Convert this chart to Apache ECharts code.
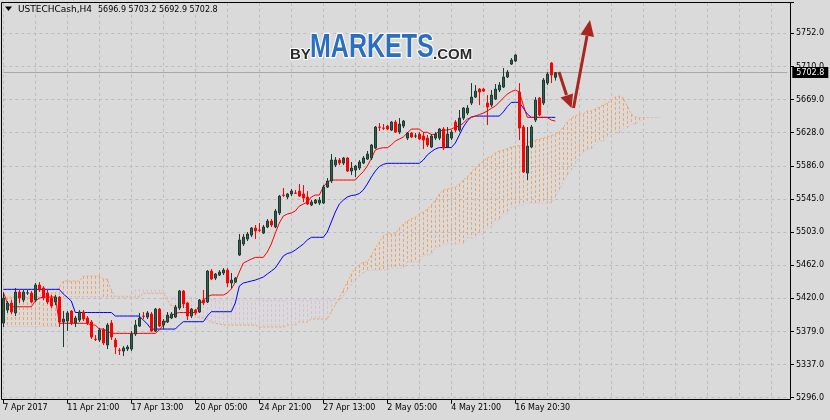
<!DOCTYPE html>
<html><head><meta charset="utf-8">
<script src="https://cdn.jsdelivr.net/npm/echarts@6/dist/echarts.min.js"></script>
<style>html,body{margin:0;padding:0;background:#dadada;}#c{width:830px;height:420px;}</style>
</head><body><div id="c"></div>
<script>
const symbolName = 'USTECHCash,H4';
const titleValues = '5696.9 5703.2 5692.9 5702.8';
const xTickLabels = ['7 Apr 2017','11 Apr 21:00','17 Apr 13:00','20 Apr 05:00','24 Apr 21:00','27 Apr 13:00','2 May 05:00','4 May 21:00','16 May 20:30'];
const yTickLabels = ['5296.0','5337.0','5379.0','5420.0','5462.0','5503.0','5545.0','5586.0','5628.0','5669.0','5710.0','5752.0'];
const lastPrice = 5702.8;

const open = [
5389.4,5405.7,5414.5,5402.0,5428.2,5418.2,5427.0,5427.0,5418.2,5437.0,
5433.2,5427.0,5420.7,5415.7,5422.0,5390.7,5391.9,5404.4,5389.4,5393.2,
5403.2,5395.7,5390.7,5369.4,5368.2,5380.7,5361.9,5389.4,5368.2,5355.7,
5354.4,5356.9,5356.9,5375.7,5385.7,5398.2,5396.9,5400.7,5379.4,5406.9,
5386.9,5390.7,5395.7,5396.9,5408.2,5429.5,5414.5,5398.2,5405.7,5403.2,
5418.2,5415.7,5454.5,5445.7,5449.5,5452.0,5455.7,5439.5,5440.7,5474.5,
5488.3,5494.5,5499.5,5508.3,5505.8,5502.0,5509.6,5517.1,5509.6,5527.1,
5549.6,5547.1,5550.9,5552.1,5554.6,5550.9,5547.1,5537.1,5539.6,5539.6,
5539.6,5559.6,5567.1,5587.1,5593.4,5589.6,5595.9,5579.6,5580.9,5583.4,
5589.6,5594.6,5595.9,5608.4,5634.7,5633.4,5635.9,5630.9,5640.9,5628.4,
5635.9,5620.9,5627.2,5623.4,5625.9,5623.4,5620.9,5609.7,5620.9,5620.9,
5632.2,5609.7,5620.9,5640.9,5630.9,5645.9,5652.2,5664.7,5672.2,5682.2,
5682.2,5664.7,5662.2,5669.7,5681.0,5684.7,5697.3,5713.5,5717.3,5678.5,
5634.7,5577.1,5609.7,5643.4,5671.0,5664.7,5689.7,5714.8,5696.9];
const high = [
5427.0,5417.0,5418.2,5433.2,5430.8,5430.8,5430.8,5429.5,5439.5,5440.7,
5435.7,5430.8,5424.5,5424.5,5423.2,5404.4,5404.4,5405.7,5398.2,5405.7,
5405.7,5398.2,5393.2,5374.4,5383.2,5383.2,5389.4,5393.2,5370.7,5358.1,
5360.6,5361.9,5379.4,5393.2,5402.0,5403.2,5404.4,5403.2,5408.2,5408.2,
5394.4,5403.2,5403.2,5412.0,5430.8,5430.8,5415.7,5408.2,5406.9,5419.5,
5430.8,5455.7,5457.0,5452.0,5455.7,5458.2,5458.2,5452.0,5447.0,5500.8,
5500.8,5503.3,5509.6,5512.1,5514.6,5512.1,5519.6,5519.6,5532.1,5549.6,
5558.4,5552.1,5557.1,5555.9,5563.4,5562.1,5554.6,5543.3,5544.6,5547.1,
5562.1,5570.9,5600.9,5597.1,5595.9,5597.1,5597.1,5590.9,5587.1,5593.4,
5598.4,5604.7,5613.4,5635.9,5639.7,5638.4,5637.2,5642.2,5643.4,5645.9,
5643.4,5628.4,5628.4,5627.2,5628.4,5628.4,5624.7,5625.9,5628.4,5633.4,
5634.7,5634.7,5630.9,5643.4,5656.0,5659.7,5662.2,5689.7,5687.2,5683.5,
5683.5,5674.7,5681.0,5688.5,5691.0,5708.5,5706.0,5721.0,5726.0,5689.7,
5637.2,5634.7,5637.2,5672.2,5672.2,5696.0,5703.5,5716.0,5703.2];
const low = [
5384.4,5402.0,5400.7,5398.2,5414.5,5415.7,5424.5,5414.5,5415.7,5428.2,
5418.2,5413.2,5408.2,5412.0,5384.4,5359.4,5379.4,5386.9,5384.4,5390.7,
5391.9,5386.9,5369.4,5366.9,5365.7,5361.9,5356.9,5368.2,5350.6,5349.4,
5348.1,5354.4,5354.4,5373.2,5384.4,5394.4,5394.4,5378.2,5378.2,5384.4,
5381.9,5389.4,5394.4,5395.7,5405.7,5408.2,5393.2,5395.7,5399.4,5402.0,
5412.0,5414.5,5443.2,5443.2,5448.2,5449.5,5434.5,5433.2,5439.5,5473.3,
5485.8,5492.0,5497.0,5494.5,5503.3,5500.8,5508.3,5509.6,5508.3,5524.6,
5547.1,5544.6,5548.3,5550.9,5547.1,5540.8,5537.1,5535.8,5538.3,5537.1,
5538.3,5558.4,5564.6,5584.6,5587.1,5587.1,5578.4,5574.6,5572.1,5580.9,
5588.4,5593.4,5593.4,5607.2,5629.7,5630.9,5630.9,5629.7,5627.2,5625.9,
5633.4,5618.4,5620.9,5620.9,5618.4,5607.2,5609.7,5608.4,5618.4,5618.4,
5605.9,5608.4,5618.4,5628.4,5628.4,5643.4,5649.7,5662.2,5671.0,5662.2,
5678.5,5637.2,5659.7,5668.5,5678.5,5683.5,5696.0,5712.3,5716.0,5618.4,
5577.1,5568.4,5608.4,5640.9,5648.4,5662.2,5687.2,5689.7,5692.9];
const close = [
5420.7,5414.5,5403.2,5428.2,5420.7,5428.2,5427.3,5415.7,5437.0,5430.8,
5420.7,5415.7,5410.7,5422.0,5390.7,5394.4,5402.0,5389.4,5395.7,5403.2,
5394.4,5389.4,5371.9,5368.9,5380.7,5364.4,5386.9,5371.9,5359.4,5355.2,
5358.1,5359.4,5375.7,5386.9,5395.7,5397.9,5402.0,5379.4,5406.9,5385.7,
5391.9,5399.4,5400.7,5409.4,5429.5,5413.2,5398.2,5406.9,5402.0,5418.2,
5414.5,5454.5,5444.5,5450.7,5453.2,5455.7,5439.5,5443.2,5445.7,5493.3,
5497.0,5500.8,5508.3,5504.6,5505.5,5509.6,5517.1,5512.1,5529.6,5548.3,
5549.2,5550.9,5554.6,5551.8,5548.3,5545.8,5538.3,5540.8,5543.3,5543.3,
5559.6,5567.1,5593.4,5593.4,5589.6,5595.9,5579.6,5583.4,5585.9,5590.9,
5595.9,5600.9,5612.2,5634.7,5634.3,5633.1,5632.2,5640.9,5628.4,5638.4,
5642.2,5627.2,5622.2,5623.4,5619.7,5618.4,5612.2,5623.4,5625.9,5632.2,
5608.4,5625.9,5628.4,5630.9,5645.9,5658.5,5658.5,5672.2,5679.7,5678.5,
5679.7,5659.7,5674.7,5682.2,5687.2,5697.3,5703.5,5718.5,5724.8,5633.4,
5578.4,5610.9,5634.7,5668.5,5649.7,5693.5,5701.0,5699.8,5702.8];
const tenkan = [
5428.2,5414.5,5409.8,5409.8,5409.8,5409.8,5409.8,5409.8,5417.0,5420.7,
5422.0,5422.0,5422.0,5422.0,5389.1,5389.1,5389.1,5389.1,5389.1,5389.1,
5389.1,5389.1,5386.9,5386.9,5381.9,5381.9,5379.4,5376.5,5376.5,5376.5,
5376.5,5376.5,5376.5,5376.5,5376.5,5376.5,5376.5,5376.5,5376.5,5380.7,
5386.9,5394.4,5398.8,5401.3,5402.6,5402.6,5402.6,5402.6,5402.6,5412.0,
5418.2,5422.0,5424.5,5424.5,5424.5,5424.5,5427.0,5432.0,5440.7,5453.3,
5464.5,5467.0,5469.5,5471.6,5471.6,5471.6,5478.3,5488.3,5502.0,5514.6,
5523.3,5525.8,5527.1,5529.6,5535.8,5538.3,5540.8,5547.1,5549.6,5549.6,
5559.6,5565.9,5568.4,5568.4,5568.4,5568.4,5568.4,5568.4,5568.4,5574.0,
5578.8,5585.9,5595.3,5605.9,5608.0,5608.8,5608.8,5612.2,5617.2,5619.7,
5622.2,5627.2,5632.2,5632.2,5632.2,5628.1,5628.1,5625.5,5625.5,5629.7,
5630.9,5630.9,5632.2,5634.7,5635.9,5639.7,5644.7,5646.8,5648.4,5650.3,
5652.2,5654.7,5658.1,5660.9,5665.9,5671.0,5676.0,5678.9,5681.0,5678.5,
5662.2,5646.8,5646.8,5646.8,5646.8,5646.8,5646.8,5643.4,5642.2];
const kijun = [
5431.6,5431.6,5431.6,5431.6,5431.6,5431.6,5431.6,5431.6,5431.6,5431.6,
5431.6,5431.6,5431.6,5431.6,5431.6,5425.7,5421.6,5417.0,5402.6,5402.6,
5402.6,5402.6,5402.6,5402.6,5402.6,5402.6,5402.6,5402.6,5398.2,5398.2,
5398.2,5398.2,5398.2,5398.2,5398.2,5393.2,5388.2,5381.9,5381.9,5381.9,
5381.9,5381.9,5381.9,5381.9,5386.9,5391.1,5391.1,5391.1,5391.1,5391.1,
5391.1,5398.2,5403.6,5403.6,5403.6,5403.6,5403.6,5403.6,5414.5,5435.7,
5439.5,5440.7,5442.0,5443.2,5445.1,5447.0,5450.8,5454.5,5458.3,5465.8,
5473.3,5476.4,5477.7,5480.8,5484.5,5488.3,5493.3,5496.7,5496.7,5496.7,
5496.7,5503.3,5515.8,5528.3,5538.3,5543.3,5547.1,5549.0,5549.6,5551.5,
5555.9,5563.4,5572.1,5579.6,5585.3,5588.0,5589.3,5589.3,5589.3,5589.3,
5589.3,5589.3,5589.3,5589.3,5589.3,5593.4,5599.7,5603.8,5607.2,5609.0,
5609.0,5609.0,5609.0,5614.7,5624.7,5634.7,5642.2,5647.2,5648.4,5648.4,
5648.4,5648.4,5648.4,5648.4,5648.4,5653.5,5660.3,5665.6,5665.6,5665.6,
5658.5,5651.0,5646.8,5646.8,5646.8,5646.8,5646.8,5646.8,5646.8];
const spanA = [
5415.7,5422.0,5422.0,5422.0,5422.0,5422.0,5422.0,5422.0,5422.0,5422.0,
5427.0,5427.0,5427.0,5427.0,5434.5,5442.0,5442.0,5442.0,5442.0,5442.0,
5448.2,5448.2,5448.2,5448.2,5448.2,5444.5,5444.5,5430.8,5422.0,5422.0,
5422.0,5422.0,5422.0,5422.0,5422.0,5426.6,5426.6,5426.6,5426.6,5426.6,
5426.6,5418.2,5410.7,5410.7,5410.7,5410.7,5407.0,5403.2,5399.4,5395.7,
5395.7,5393.2,5390.7,5389.1,5388.2,5386.9,5386.9,5386.9,5386.9,5386.9,
5386.9,5386.9,5386.9,5386.9,5384.4,5384.4,5384.4,5384.4,5384.4,5384.4,
5384.4,5386.9,5386.9,5386.9,5390.7,5390.7,5390.7,5394.4,5394.4,5394.4,
5394.4,5394.4,5403.2,5412.0,5420.7,5430.8,5440.7,5450.7,5458.3,5462.0,
5465.8,5465.8,5474.5,5483.3,5490.8,5498.3,5500.8,5500.8,5500.8,5508.3,
5513.3,5517.1,5519.6,5522.1,5525.8,5528.3,5532.1,5537.1,5543.3,5550.8,
5555.9,5557.1,5558.4,5559.6,5563.4,5568.4,5572.1,5578.4,5583.4,5588.4,
5592.1,5595.9,5598.4,5602.2,5604.7,5605.9,5607.8,5609.7,5610.9,5611.5,
5612.2,5614.7,5617.2,5618.4,5619.7,5620.9,5622.2,5624.1,5625.9,5628.4,
5634.7,5640.9,5645.9,5648.4,5651.0,5651.0,5654.7,5654.7,5657.2,5659.7,
5662.2,5664.7,5668.5,5672.2,5673.5,5671.0,5661.0,5651.0,5647.2,5646.6,
5646.6,5646.6,5646.6,5646.6,5646.6];
const spanB = [
5385.1,5385.1,5385.1,5385.1,5385.1,5385.1,5385.1,5385.1,5385.1,5385.1,
5385.1,5385.1,5385.1,5385.1,5385.1,5422.0,5422.0,5422.0,5422.0,5422.0,
5422.0,5422.0,5422.0,5422.0,5422.0,5422.0,5422.0,5422.0,5423.2,5423.2,
5423.2,5423.2,5423.2,5430.8,5430.8,5430.8,5430.8,5430.8,5430.8,5430.8,
5430.8,5422.0,5422.0,5422.0,5422.0,5422.0,5422.0,5422.0,5419.5,5419.5,
5419.5,5419.5,5419.5,5418.2,5418.2,5418.2,5418.2,5418.2,5418.2,5418.2,
5418.2,5418.2,5418.2,5418.2,5418.2,5418.2,5418.2,5418.2,5418.2,5418.2,
5418.2,5418.2,5418.2,5418.2,5418.2,5418.2,5418.2,5418.2,5418.2,5418.2,
5418.2,5418.2,5418.2,5418.2,5418.2,5423.2,5430.8,5437.0,5443.2,5448.2,
5452.0,5455.7,5455.7,5455.7,5455.7,5455.7,5455.7,5458.3,5458.3,5458.3,
5458.3,5465.8,5465.8,5465.8,5465.8,5474.5,5474.5,5474.5,5484.5,5484.5,
5488.3,5488.3,5488.3,5488.3,5488.3,5488.3,5495.8,5495.8,5495.8,5500.8,
5500.8,5508.3,5508.3,5518.3,5518.3,5525.8,5525.8,5534.6,5534.6,5537.1,
5537.1,5539.6,5539.6,5539.6,5539.6,5539.6,5539.6,5539.6,5547.1,5555.9,
5565.9,5574.6,5580.9,5589.6,5597.1,5603.4,5607.2,5607.2,5613.4,5617.2,
5617.2,5623.4,5623.4,5627.2,5627.2,5633.4,5633.4,5638.4,5638.4,5643.4,
5643.4,5646.8,5646.6,5646.6,5646.6];

const NCAT = 197;
const cats = [];
for (let i = 0; i < NCAT; i++) cats.push(String(i));
const yMin = parseFloat(yTickLabels[0]);
const yTop = parseFloat(yTickLabels[yTickLabels.length - 1]);
const yStep = (yTop - yMin) / (yTickLabels.length - 1);
const yMax = yMin + yStep * (395 / 33.127);

const candleData = open.map((o, i) => [o, close[i], low[i], high[i]]);
const cloudData = spanA.map((a, i) => [i, a, spanB[i]]);

const FONT = 'DejaVu Sans';
const chart = echarts.init(document.getElementById('c'), null, {renderer: 'canvas'});
const arrowColor = '#a8261f';
chart.setOption({
  animation: false,
  backgroundColor: '#dadada',
  grid: {left: 3.3, right: 42.7, top: 2.7, bottom: 22.3, show: false},
  xAxis: {
    type: 'category', data: cats, boundaryGap: false, offset: 2,
    axisLine: {show: false},
    axisTick: {show: true, length: 4, interval: (i) => i % 16 === 0 && i <= 128, lineStyle: {color: '#000'}},
    axisLabel: {interval: (i) => i % 16 === 0 && i <= 128, align: 'left', margin: 4,
      fontFamily: FONT, fontSize: 8, color: '#000',
      formatter: (v, idx) => (idx % 16 === 0 ? (xTickLabels[idx / 16] || '') : '')},
    splitLine: {show: true, interval: (i) => i % 8 === 0, lineStyle: {color: '#bdbdbd', type: [3, 3], width: 1}}
  },
  yAxis: {
    type: 'value', position: 'right', offset: 2.7, min: yMin, max: yMax, interval: yStep, scale: true,
    axisLine: {show: false},
    axisTick: {show: true, length: 4, lineStyle: {color: '#000'}},
    axisLabel: {margin: 6, fontFamily: FONT, fontSize: 8, color: '#000', showMaxLabel: true,
      formatter: (v) => {
        const k = Math.round((v - yMin) / yStep);
        if (k < 0 || k >= yTickLabels.length) return '';
        if (Math.abs(v - (yMin + k * yStep)) > 0.5) return '';
        return yTickLabels[k];
      }},
    splitLine: {show: true, lineStyle: {color: '#bdbdbd', type: [3, 3], width: 1}}
  },
  series: [
    {
      type: 'custom', name: 'cloud', silent: true, z: 1,
      encode: {x: 0, y: [1, 2]},
      data: cloudData,
      renderItem: (params, api) => {
        const i = api.value(0), a = api.value(1), b = api.value(2);
        const p1 = api.coord([i, a]);
        const p2 = api.coord([i, b]);
        const x = Math.round(p1[0]) + 0.5;
        return {type: 'line', shape: {x1: x, y1: p1[1], x2: x, y2: p2[1]},
          style: {stroke: a >= b ? '#f4a460' : '#d8bfd8', lineWidth: 1, lineDash: [3, 2]}};
      }
    },
    {type: 'line', name: 'SpanA', data: spanA, showSymbol: false, silent: true, z: 2,
      lineStyle: {color: '#f4a460', width: 1, type: [2, 2]}},
    {type: 'line', name: 'SpanB', data: spanB, showSymbol: false, silent: true, z: 2,
      lineStyle: {color: '#d8bfd8', width: 1, type: [2, 2]}},
    {type: 'line', name: 'Kijun', data: kijun, showSymbol: false, silent: true, z: 3,
      lineStyle: {color: '#0000ff', width: 1}},
    {type: 'line', name: 'Tenkan', data: tenkan, showSymbol: false, silent: true, z: 4,
      lineStyle: {color: '#ff0000', width: 1}},
    {
      type: 'candlestick', name: 'USTECHCash', data: candleData, barWidth: 2, clip: false, z: 5,
      itemStyle: {color: '#30604c', color0: '#ff0000', borderColor: '#1f3a30', borderColor0: '#ff0000', borderWidth: 1},
      markLine: {
        silent: true, symbol: ['none', 'none'], animation: false,
        data: [{yAxis: lastPrice}],
        lineStyle: {color: '#a8a8a8', type: 'solid', width: 1},
        label: {show: true, position: 'end', distance: 5, formatter: () => lastPrice.toFixed(1),
          backgroundColor: '#000', color: '#fff', fontFamily: FONT, fontSize: 8, padding: [2, 4, 1, 4]}
      }
    }
  ],
  graphic: [
    {type: 'rect', z: 100, silent: true, shape: {x: 1.5, y: 2.5, width: 789, height: 397},
      style: {fill: null, stroke: '#000', lineWidth: 1}},
    {type: 'polygon', z: 100, shape: {points: [[5, 6.5], [12, 6.5], [8.5, 11]]}, style: {fill: '#000'}},
    {type: 'text', z: 100, x: 18, y: 9.5, style: {text: symbolName, font: '9px "DejaVu Sans"', fill: '#000', verticalAlign: 'middle'}},
    {type: 'text', z: 100, x: 98, y: 9.5, style: {text: titleValues, font: '8px "DejaVu Sans"', fill: '#000', verticalAlign: 'middle'}},
    {type: 'text', z: 50, x: 290, y: 62, style: {text: 'BY', font: 'bold 15px "Liberation Sans"', fill: '#2b2b2b', verticalAlign: 'bottom',
      stroke: '#ffffff', lineWidth: 2}},
    {type: 'text', z: 50, x: 310, y: 64, scaleY: 1.3, originX: 0, originY: 0, style: {text: 'MARKETS', font: 'bold 25px "Liberation Sans"', fill: '#2a6fc0', verticalAlign: 'bottom',
      stroke: '#ffffff', lineWidth: 2}},
    {type: 'text', z: 50, x: 433, y: 62, style: {text: '.COM', font: 'bold 15px "Liberation Sans"', fill: '#2b2b2b', verticalAlign: 'bottom',
      stroke: '#ffffff', lineWidth: 2}},
    {type: 'line', z: 60, shape: {x1: 559, y1: 72, x2: 566.5, y2: 95}, style: {stroke: arrowColor, lineWidth: 3}},
    {type: 'polygon', z: 60, shape: {points: [[571.5, 108], [573, 93.5], [560.5, 97.5]]}, style: {fill: arrowColor}},
    {type: 'line', z: 60, shape: {x1: 573.5, y1: 108, x2: 587, y2: 36}, style: {stroke: arrowColor, lineWidth: 3}},
    {type: 'polygon', z: 60, shape: {points: [[590, 20], [594, 37], [580.5, 34.5]]}, style: {fill: arrowColor}}
  ]
});
</script>
</body></html>
